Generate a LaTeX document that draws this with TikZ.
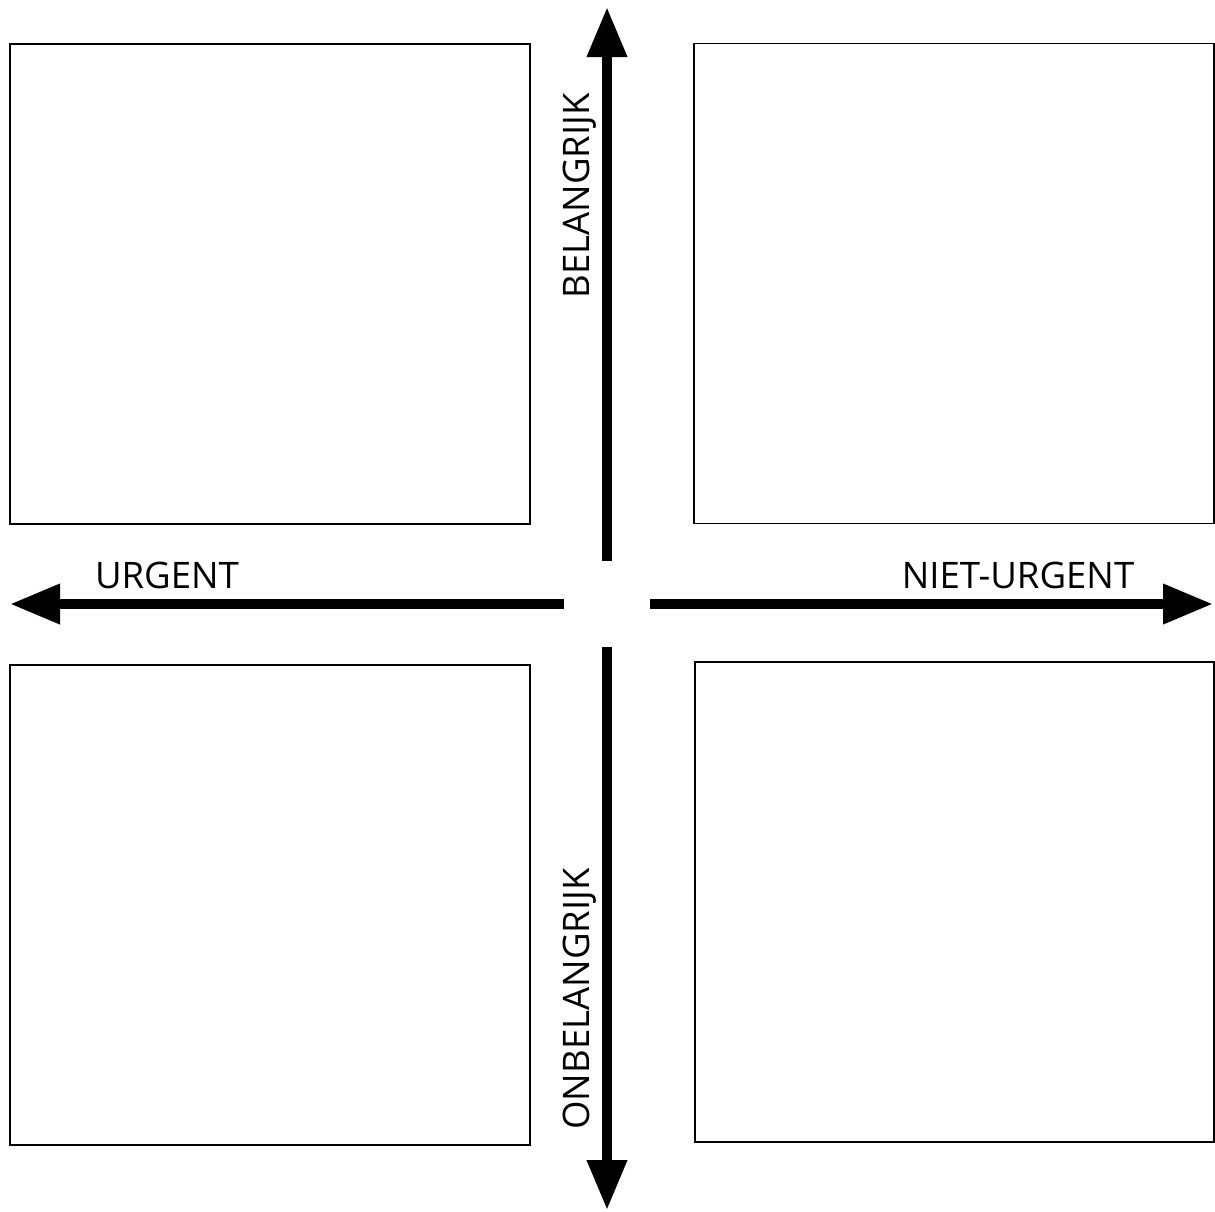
\documentclass[tikz,border=0pt]{standalone}
\usepackage{fontspec}
\setmainfont{Open Sans}
\usetikzlibrary{positioning,arrows.meta}

\begin{document}
\begin{tikzpicture}[>={Triangle[length=0.5cm,width=0.38cm]},
    every node/.style={font=\fontsize{10.4}{12}\selectfont, inner sep=0pt}]
  \def\bw{5.2cm}
  \def\bh{4.8cm}
  \useasboundingbox (0,0) rectangle (12.15,-12.11);

  % quadrants
  \node[draw, line width=0.5pt, minimum width=\bw, minimum height=\bh] (ul)
      at (2.70,-2.84) {};
  \node[draw, line width=0.5pt, minimum width=\bw, minimum height=\bh] (ur)
      at (9.54,-2.835) {};
  \node[draw, line width=0.5pt, minimum width=\bw, minimum height=\bh] (ll)
      at (2.70,-9.05) {};
  \node[draw, line width=0.5pt, minimum width=5.19cm, minimum height=\bh] (lr)
      at (9.545,-9.02) {};

  % axes
  \coordinate (vtop) at (6.07,-0.07);
  \coordinate (vtopin) at (6.07,-5.61);
  \coordinate (vbot) at (6.07,-12.10);
  \coordinate (vbotin) at (6.07,-6.47);
  \coordinate (hleft) at (0.10,-6.04);
  \coordinate (hleftin) at (5.64,-6.04);
  \coordinate (hright) at (12.13,-6.04);
  \coordinate (hrightin) at (6.50,-6.04);

  \draw[->, line width=0.1cm] (vtopin) -- (vtop);
  \draw[->, line width=0.1cm] (vbotin) -- (vbot);
  \draw[->, line width=0.1cm] (hleftin) -- (hleft);
  \draw[->, line width=0.1cm] (hrightin) -- (hright);

  % labels
  \node[rotate=90] (bel) at (5.80,-1.96) {BELANGRIJK};
  \node[rotate=90] (onbel) at (5.80,-9.99) {ONBELANGRIJK};
  \node (urg) at (1.67,-5.755) {URGENT};
  \node (nurg) at (10.18,-5.755) {NIET-URGENT};
\end{tikzpicture}
\end{document}
